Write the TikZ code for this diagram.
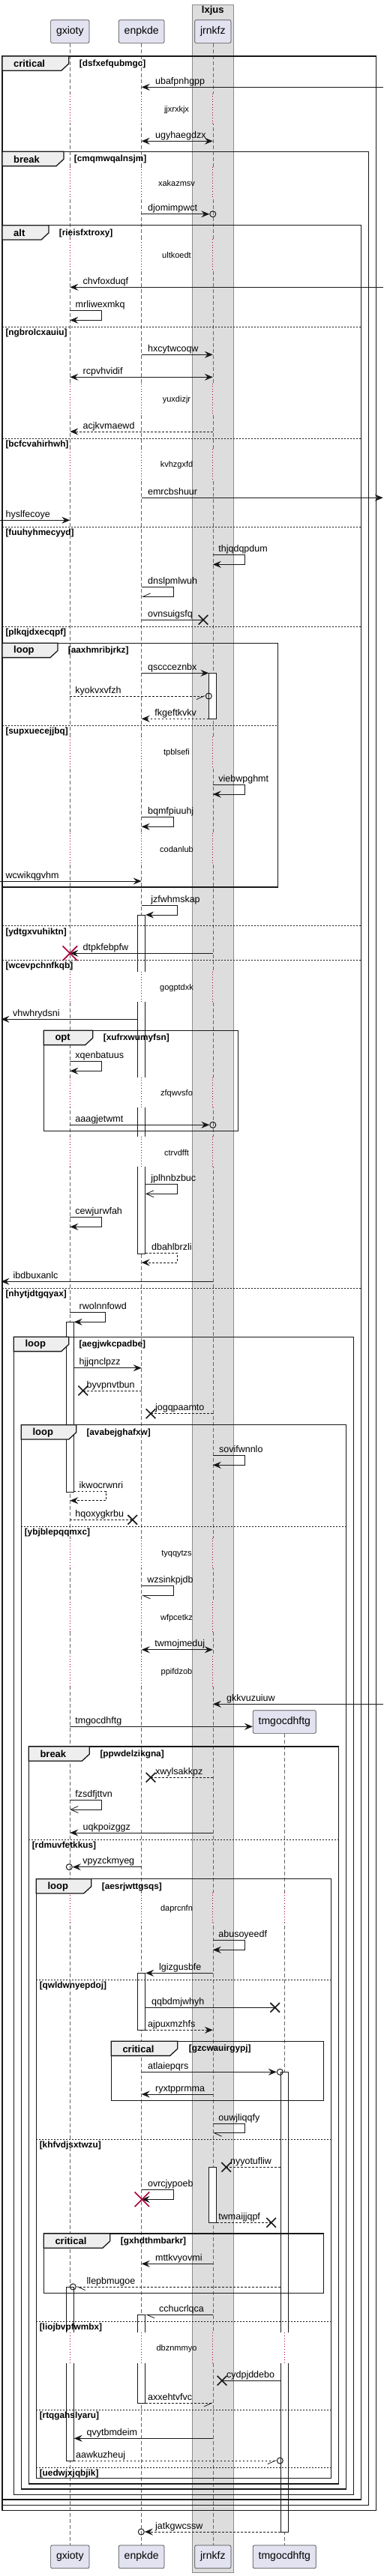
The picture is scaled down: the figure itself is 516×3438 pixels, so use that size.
\documentclass[tikz,border=0pt]{standalone}
\usepackage{fontspec}
\setmainfont{Liberation Sans}
\usetikzlibrary{arrows.meta,shapes.misc,calc,positioning}
\definecolor{ink}{HTML}{181818}
\definecolor{partfill}{HTML}{E2E2F0}
\definecolor{boxgray}{HTML}{DDDDDD}
\definecolor{boxline}{HTML}{8C8C8C}
\definecolor{tabfill}{HTML}{EEEEEE}
\definecolor{delayred}{HTML}{A80036}

\tikzset{
  part/.style={rectangle,rounded corners=2pt,draw=ink!80,line width=0.7pt,fill=partfill,
    font=\fontsize{14}{16}\selectfont,minimum height=30.7pt,inner xsep=7.4pt,inner ysep=0pt},
  lifeline/.style={draw=black!60,line width=0.6pt,dash pattern=on 5pt off 3pt},
  delayline/.style={draw=delayred,line width=0.8pt,dash pattern=on 1pt off 2.6pt},
  act/.style={rectangle,draw=ink,line width=0.8pt,fill=white,minimum width=10pt,inner sep=0pt,anchor=north},
  frame/.style={draw=ink,line width=1.5pt},
  tab/.style={draw=ink,fill=tabfill,line width=1.3pt},
  sepline/.style={draw=ink,line width=0.7pt,dash pattern=on 2pt off 2pt},
  kwtxt/.style={font=\bfseries\fontsize{13}{15}\selectfont,anchor=west,inner sep=0pt},
  gdtxt/.style={font=\bfseries\fontsize{11.8}{14}\selectfont,anchor=west,inner sep=0pt},
  lbl/.style={font=\fontsize{12.5}{15}\selectfont,anchor=base west,inner sep=0pt},
  delaytxt/.style={font=\fontsize{11}{13}\selectfont,inner sep=0pt},
  msg/.style={draw=ink,line width=0.8pt,->},
  dashmsg/.style={dash pattern=on 2.5pt off 2.5pt},
  lostmsg/.style={draw=ink,line width=0.8pt},
  openmsg/.style={draw=ink,line width=0.8pt,-{Straight Barb[length=10pt,width=9pt]}},
  halfmsg/.style={draw=ink,line width=0.8pt,-{Straight Barb[harpoon,length=10pt,width=9pt]}},
  halfswap/.style={draw=ink,line width=0.8pt,-{Straight Barb[harpoon,swap,length=10pt,width=9pt]}},
  lostx/.style={cross out,draw=ink,line width=1.6pt,minimum size=11pt,inner sep=0pt},
  killx/.style={cross out,draw=delayred,line width=1.6pt,minimum size=18pt,inner sep=0pt},
  endcirc/.style={circle,draw=ink,line width=1pt,minimum size=8pt,inner sep=0pt},
}

\begin{document}
\begin{tikzpicture}[x=1pt,y=-1pt,>={Stealth[length=11pt,width=9pt,inset=4pt]}]
  \useasboundingbox (0,0) rectangle (516,3438);

  % box round jrnkfz
  \filldraw[fill=boxgray,draw=boxline,line width=0.8pt] (256.3,6) rectangle (311.3,3433.3);
  \node[font=\bfseries\fontsize{13}{15}\selectfont] (boxTitle) at (283.8,14.5) {lxjus};

  % participants
  \node[part] (gx) at (93.3,42) {gxioty};
  \node[part] (en) at (188.7,42) {enpkde};
  \node[part] (jr) at (283.8,42) {jrnkfz};
  \node[part] (tm) at (379.3,2298) {tmgocdhftg};
  \node[part] (gxB) at (gx |- 0,3412.3) {gxioty};
  \node[part] (enB) at (en |- 0,3412.3) {enpkde};
  \node[part] (jrB) at (jr |- 0,3412.3) {jrnkfz};
  \node[part] (tmB) at (tm |- 0,3412.3) {tmgocdhftg};

  \coordinate (lEdge) at (0,0);
  \coordinate (lTip) at (1.5,0);
  \coordinate (rEdge) at (510.7,0);

  \foreach \p/\q in {gx/gxB,en/enB,jr/jrB,tm/tmB}
    \draw[lifeline] (\p.south) -- (\q.north);

  % activations
  \node[act,minimum height=61pt] (jrAct1) at (jr |- 0,898.3) {};
  \node[act,minimum height=452.3pt] (enAct1) at (en |- 0,1221) {};
  \node[act,minimum height=226.7pt] (gxAct1) at (gx |- 0,1764.3) {};
  \node[act,minimum height=76pt] (enAct2) at (en |- 0,2633.3) {};
  \node[act,minimum height=613.7pt] (tmAct1) at (tm |- 0,2765.3) {};
  \node[act,minimum height=74pt] (jrAct2) at (jr |- 0,2892.3) {};
  \node[act,minimum height=232.3pt] (gxAct2) at (gx |- 0,3052) {};
  \node[act,minimum height=118pt] (enAct3) at (en |- 0,3089.3) {};

  % delays
  \foreach \txt/\d [count=\i] in {jjxrxkjx/146.3,xakazmsv/244.3,ultkoedt/341,yuxdizjr/533.3,
      kvhzgxfd/621,tpblsefi/1005,codanlub/1133.3,gogptdxk/1318.3,zfqwvsfo/1459.3,
      ctrvdfft/1538.3,tyqqytzs/2074.3,wfpcetkz/2159.3,ppifdzob/2231.7}{
    \foreach \p/\bg in {gx/white,en/white,jr/boxgray}{
      \fill[\bg] ($(\p |- 0,\d)+(-6,-21.7)$) rectangle ($(\p |- 0,\d)+(6,19)$);
      \draw[delayline] ($(\p |- 0,\d)+(0,-21.7)$) -- ($(\p |- 0,\d)+(0,19)$);
    }
    \node[delaytxt] (dly\i) at (235.5,\d) {\txt};
  }
  \foreach \txt/\d [count=\i] in {daprcnfn/2547.3,dbznmmyo/3135}{
    \foreach \p/\bg in {gx/white,en/white,jr/boxgray,tm/white}{
      \fill[\bg] ($(\p |- 0,\d)+(-6,-21.7)$) rectangle ($(\p |- 0,\d)+(6,19)$);
      \draw[delayline] ($(\p |- 0,\d)+(0,-21.7)$) -- ($(\p |- 0,\d)+(0,19)$);
    }
    \node[delaytxt] (dlyB\i) at (235.5,\d) {\txt};
  }

  % fragments
  \foreach \xa/\ya/\xb/\yb/\tx/\kw/\gd/\gdx [count=\i] in {
      3/75/501.7/3350.7/91.7/critical/dsfxefqubmgc/105.7,
      3/202.3/491.7/3343.3/85/break/cmqmwqalnsjm/98.7,
      3/300.7/481.7/3336/65/alt/rieisfxtroxy/78.7,
      3/858.3/370.7/1184/77/loop/aaxhmribjrkz/90.7,
      58.3/1375.3/317.7/1509.3/123.7/opt/xufrxwumyfsn/137.7,
      18.3/1784.3/471.7/3329.3/91.7/loop/aegjwkcpadbe/105.3,
      28.3/1901.7/461.7/3322/101.7/loop/avabejghafxw/115.3,
      38.3/2331/451.7/3315/119.3/break/ppwdelzikgna/133.3,
      48.3/2507.7/441.7/3307.3/121.7/loop/aesrjwttgsqs/135.7,
      148.3/2724.3/431.7/2803.3/236.7/critical/gzcwauirgypj/251.7,
      58.3/2981/431.7/3060.7/146.7/critical/gxhdthmbarkr/160.7}{
    \draw[frame] (\xa,\ya) rectangle (\xb,\yb);
    \filldraw[tab] (\xa,\ya) -- (\tx,\ya) -- (\tx,\ya+10) -- (\tx-10,\ya+19.3) -- (\xa,\ya+19.3) -- cycle;
    \node[kwtxt] (kw\i) at (\xa+15,\ya+10.3) {\kw};
    \node[gdtxt] (gd\i) at (\gdx,\ya+10.3) {[\gd]};
  }
  \foreach \xa/\xb/\sy/\txt [count=\i] in {
      3/481.7/436/ngbrolcxauiu, 3/481.7/585/bcfcvahirhwh, 3/481.7/703.3/fuuhyhmecyyd,
      3/481.7/836/plkqjdxecqpf, 3/370.7/968.3/supxuecejjbq, 3/481.7/1235.7/ydtgxvuhiktn,
      3/481.7/1281.3/wcevpchnfkqb, 3/481.7/1719.3/nhytjdtgqyax, 28.3/461.7/2037.3/ybjblepqqmxc,
      38.3/451.7/2455/rdmuvfetkkus, 48.3/441.7/2642.3/qwldwnyepdoj, 48.3/441.7/2855/khfvdjsxtwzu,
      48.3/441.7/3098.3/liojbvpfwmbx, 48.3/441.7/3216.3/rtqgahslyaru, 48.3/441.7/3293.3/uedwjxjqbjik}{
    \draw[sepline] (\xa,\sy) -- (\xb,\sy);
    \node[gdtxt] (sep\i) at (\xa+4.3,\sy+8.3) {[\txt]};
  }

  % messages
  \draw[msg] (rEdge |- 0,116.3) -- (en |- 0,116.3) node[lbl] (m1) at (206.7,112.3) {ubafpnhgpp};
  \draw[msg,<->] (en |- 0,188.3) -- (jr |- 0,188.3) node[lbl] (m2) at (206.7,184.3) {ugyhaegdzx};
  \node[endcirc] (c1) at (jr |- 0,285.7) {};
  \draw[msg] (en |- 0,285.7) -- (c1.west) node[lbl] (m3) at (196.7,281.7) {djomimpwct};
  \draw[msg] (rEdge |- 0,383.3) -- (gx |- 0,383.3) node[lbl] (m4) at (110.3,379.3) {chvfoxduqf};
  \draw[msg] (gx |- 0,414.3) -| ++(42.4,13) -- (gx |- 0,427.3) node[lbl] (m5) at (100.3,410.3) {mrliwexmkq};
  \draw[msg] (en |- 0,473.3) -- (jr |- 0,473.3) node[lbl] (m6) at (196.7,469.3) {hxcytwcoqw};
  \draw[msg,<->] (gx |- 0,503.3) -- (jr |- 0,503.3) node[lbl] (m7) at (110.3,499.3) {rcpvhvidif};
  \draw[msg,dashmsg] (jr |- 0,576) -- (gx |- 0,576) node[lbl] (m8) at (110.3,572) {acjkvmaewd};
  \draw[msg] (en |- 0,664.3) -- (rEdge |- 0,664.3) node[lbl] (m9) at (196.7,660.3) {emrcbshuur};
  \draw[msg] (lEdge |- 0,694.3) -- (gx |- 0,694.3) node[lbl] (m10) at (7.3,690.3) {hyslfecoye};
  \draw[msg] (jr |- 0,740.7) -| ++(43,12.6) -- (jr |- 0,753.3) node[lbl] (m11) at (291,736.7) {thjqdqpdum};
  \draw[halfswap] (en |- 0,783.3) -| ++(42.6,13) -- (en |- 0,796.3) node[lbl] (m12) at (196.7,779.3) {dnslpmlwuh};
  \node[lostx] (x1) at (271,827.3) {};
  \draw[lostmsg] (en |- 0,827.3) -- (x1.center) node[lbl] (m13) at (196.7,823.3) {ovnsuigsfq};
  \draw[msg] (en |- 0,898.3) -- (jrAct1.west |- 0,898.3) node[lbl] (m14) at (196.7,894.3) {qsccceznbx};
  \node[endcirc] (c2) at (278.3,929) {};
  \draw[halfswap,dashmsg] (gx |- 0,929) -- (c2.west) node[lbl] (m15) at (100,925) {kyokvxvfzh};
  \draw[msg,dashmsg] (jrAct1.west |- 0,959.3) -- (en |- 0,959.3) node[lbl] (m16) at (206,955.3) {fkgeftkvkv};
  \draw[msg] (jr |- 0,1047.3) -| ++(43,12.7) -- (jr |- 0,1060) node[lbl] (m17) at (291,1043.3) {viebwpghmt};
  \draw[msg] (en |- 0,1090.3) -| ++(42.6,13) -- (en |- 0,1103.3) node[lbl] (m18) at (196.7,1086.3) {bqmfpiuuhj};
  \draw[msg] (lEdge |- 0,1176) -- (en |- 0,1176) node[lbl] (m19) at (7.3,1172) {wcwikqgvhm};
  \draw[msg] (en |- 0,1208.3) -| ++(47.6,12.7) -- (enAct1.east |- 0,1221) node[lbl] (m20) at (201,1204.3) {jzfwhmskap};
  \draw[msg] (jr |- 0,1272.3) -- (gx |- 0,1272.3) node[lbl] (m21) at (110.3,1268.3) {dtpkfebpfw};
  \node[killx] (k1) at (gx |- 0,1272.3) {};
  \draw[msg] (enAct1.west |- 0,1360.3) -- (lTip |- 0,1360.3) node[lbl] (m22) at (16.7,1356.3) {vhwhrydsni};
  \draw[msg] (gx |- 0,1416.7) -| ++(42.4,12.6) -- (gx |- 0,1429.3) node[lbl] (m23) at (100,1412.7) {xqenbatuus};
  \node[endcirc] (c3) at (jr |- 0,1501.3) {};
  \draw[msg] (gx |- 0,1501.3) -- (c3.west) node[lbl] (m24) at (100,1497.3) {aaagjetwmt};
  \draw[openmsg] (enAct1.east |- 0,1580.3) -| ++(42,13) -- (enAct1.east |- 0,1593.3) node[lbl] (m25) at (201,1576.3) {jplhnbzbuc};
  \draw[msg] (gx |- 0,1624.7) -| ++(42.4,12.6) -- (gx |- 0,1637.3) node[lbl] (m26) at (100,1620.7) {cewjurwfah};
  \draw[msg,dashmsg] (enAct1.east |- 0,1672.3) -| ++(42,12.7) -- (en |- 0,1685) node[lbl] (m27) at (201.7,1668.3) {dbahlbrzli};
  \draw[msg] (jr |- 0,1710.3) -- (lTip |- 0,1710.3) node[lbl] (m28) at (17.3,1706.3) {ibdbuxanlc};
  \draw[msg] (gx |- 0,1751.3) -| ++(47.4,13) -- (gxAct1.east |- 0,1764.3) node[lbl] (m29) at (105.3,1747.3) {rwolnnfowd};
  \draw[msg] (gxAct1.east |- 0,1825.7) -- (en |- 0,1825.7) node[lbl] (m30) at (105.3,1821.7) {hjjqnclpzz};
  \node[lostx] (x2) at (110.7,1856) {};
  \draw[lostmsg,dashmsg] (en |- 0,1856) -- (x2.center) node[lbl] (m31) at (115.3,1852) {byvpnvtbun};
  \node[lostx] (x3) at (201,1886.7) {};
  \draw[lostmsg,dashmsg] (jr |- 0,1886.7) -- (x3.center) node[lbl] (m32) at (206.7,1882.7) {jogqpaamto};
  \draw[msg] (jr |- 0,1942.3) -| ++(43,13) -- (jr |- 0,1955.3) node[lbl] (m33) at (291.7,1938.3) {sovifwnnlo};
  \draw[msg,dashmsg] (gxAct1.east |- 0,1990.7) -| ++(42.4,12) -- (gx |- 0,2002.7) node[lbl] (m34) at (105.3,1986.7) {ikwocrwnri};
  \node[lostx] (x4) at (176.7,2028.3) {};
  \draw[lostmsg,dashmsg] (gx |- 0,2028.3) -- (x4.center) node[lbl] (m35) at (100,2024.3) {hqoxygkrbu};
  \draw[halfmsg] (en |- 0,2116.7) -| ++(42.6,12.6) -- (en |- 0,2129.3) node[lbl] (m36) at (196,2112.7) {wzsinkpjdb};
  \draw[msg,<->] (en |- 0,2201.7) -- (jr |- 0,2201.7) node[lbl] (m37) at (206,2197.7) {twmojmeduj};
  \draw[msg] (rEdge |- 0,2274.3) -- (jr |- 0,2274.3) node[lbl] (m38) at (301.7,2270.3) {gkkvuzuiuw};
  \draw[msg] (gx |- 0,2304.3) -- (tm.west |- 0,2304.3) node[lbl] (m39) at (100,2300.3) {tmgocdhftg};
  \node[lostx] (x5) at (201,2372.3) {};
  \draw[lostmsg,dashmsg] (jr |- 0,2372.3) -- (x5.center) node[lbl] (m40) at (206.7,2368.3) {xwylsakkpz};
  \draw[openmsg] (gx |- 0,2402.7) -| ++(42.4,12.3) -- (gx |- 0,2415) node[lbl] (m41) at (100,2398.7) {fzsdfjttvn};
  \draw[msg] (jr |- 0,2446) -- (gx |- 0,2446) node[lbl] (m42) at (110.3,2442) {uqkpoizggz};
  \node[endcirc] (c4) at (92.3,2491.7) {};
  \draw[msg] (en |- 0,2491.7) -- (c4.east) node[lbl] (m43) at (110,2487.7) {vpyzckmyeg};
  \draw[msg] (jr |- 0,2589.3) -| ++(43,13) -- (jr |- 0,2602.3) node[lbl] (m44) at (291,2585.3) {abusoyeedf};
  \draw[msg] (jr |- 0,2633.3) -- (enAct2.east |- 0,2633.3) node[lbl] (m45) at (211.7,2629.3) {lgizgusbfe};
  \node[lostx] (x6) at (366.7,2679.3) {};
  \draw[lostmsg] (enAct2.east |- 0,2679.3) -- (x6.center) node[lbl] (m46) at (201.7,2675.3) {qqbdmjwhyh};
  \draw[msg,dashmsg] (enAct2.east |- 0,2709.3) -- (jr |- 0,2709.3) node[lbl] (m47) at (196.7,2705.3) {ajpuxmzhfs};
  \node[endcirc] (c5) at (373.3,2765.3) {};
  \draw[msg] (en |- 0,2765.3) -- (c5.west) node[lbl] (m48) at (196.7,2761.3) {atlaiepqrs};
  \draw[msg] (jr |- 0,2795) -- (en |- 0,2795) node[lbl] (m49) at (206.7,2791) {ryxtpprmma};
  \draw[halfmsg] (jr |- 0,2834.3) -| ++(43,12.4) -- (jr |- 0,2846.7) node[lbl] (m50) at (291,2830.3) {ouwjliqqfy};
  \node[lostx] (x7) at (301.7,2892.3) {};
  \draw[lostmsg,dashmsg] (tmAct1.west |- 0,2892.3) -- (x7.center) node[lbl] (m51) at (306.7,2888.3) {nyyotufliw};
  \draw[msg] (en |- 0,2922.3) -| ++(42.6,13) -- (en |- 0,2935.3) node[lbl] (m52) at (196.7,2918.3) {ovrcjypoeb};
  \node[killx] (k2) at (189.3,2935.3) {};
  \node[lostx] (x8) at (361.7,2966.3) {};
  \draw[lostmsg,dashmsg] (jrAct2.east |- 0,2966.3) -- (x8.center) node[lbl] (m53) at (291,2962.3) {twmaijjqpf};
  \draw[msg] (jr |- 0,3021.3) -- (en |- 0,3021.3) node[lbl] (m54) at (206.7,3017.3) {mttkvyovmi};
  \node[endcirc] (c6) at (97.3,3052) {};
  \draw[halfmsg,dashmsg] (tmAct1.west |- 0,3052) -- (c6.east) node[lbl] (m55) at (115.3,3048) {llepbmugoe};
  \draw[halfmsg] (jr |- 0,3089.3) -- (enAct3.east |- 0,3089.3) node[lbl] (m56) at (211.7,3085.3) {cchucrlqca};
  \node[lostx] (x9) at (296,3177.3) {};
  \draw[lostmsg] (tmAct1.west |- 0,3177.3) -- (x9.center) node[lbl] (m57) at (301.7,3173.3) {cydpjddebo};
  \draw[halfswap,dashmsg] (enAct3.east |- 0,3207.3) -- (jr |- 0,3207.3) node[lbl] (m58) at (196.7,3203.3) {axxehtvfvc};
  \draw[msg] (jr |- 0,3254.3) -- (gxAct2.east |- 0,3254.3) node[lbl] (m59) at (115.3,3250.3) {qvytbmdeim};
  \node[endcirc] (c7) at (373.3,3284) {};
  \draw[halfswap,dashmsg] (gxAct2.east |- 0,3284) -- (c7.west) node[lbl] (m60) at (100.7,3280) {aawkuzheuj};
  \node[endcirc] (c8) at (188.3,3379) {};
  \draw[msg,dashmsg] (tmAct1.west |- 0,3379) -- (c8.east) node[lbl] (m61) at (206.7,3375) {jatkgwcssw};
\end{tikzpicture}
\end{document}
